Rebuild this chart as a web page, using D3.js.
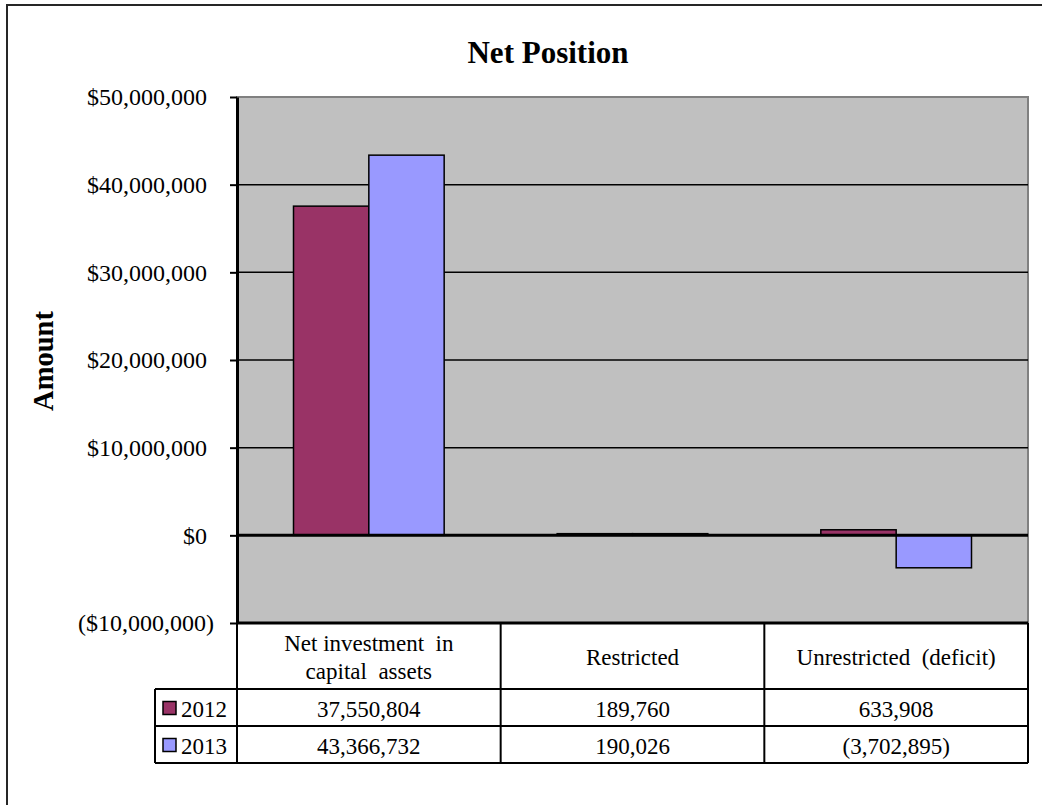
<!DOCTYPE html>
<html>
<head>
<meta charset="utf-8">
<script src="https://cdn.jsdelivr.net/npm/d3@7"></script>
<style>
  body { margin: 0; background: #fff; }
  svg text { font-family: "Liberation Serif", "Times New Roman", serif; fill: #000; white-space: pre; }
</style>
</head>
<body>
<svg id="chart_svg"></svg>
<script>
// Data
var categories = ['Net investment  in\ncapital  assets', 'Restricted', 'Unrestricted  (deficit)'];
var years = ['2012', '2013'];
var values2012 = [37550804, 189760, 633908];
var values2013 = [43366732, 190026, -3702895];
var yTicks = [-10000000, 0, 10000000, 20000000, 30000000, 40000000, 50000000];
var colors = ['#993366', '#9999FF'];

// Dimensions
var W = 1042, H = 805;
var plot = { left: 237, right: 1028, top: 97, bottom: 623 };
var rows = { header: 689, r1: 726, r2: 763, legendLeft: 155 };

var svg = d3.select('#chart_svg').attr('width', W).attr('height', H);

// outer frame (runs off the bottom/right of the picture)
svg.append('rect')
   .attr('x', 7).attr('y', 5)
   .attr('width', W + 20).attr('height', H + 20)
   .attr('fill', '#fff').attr('stroke', '#262626').attr('stroke-width', 2);

var x0 = d3.scaleBand().domain(d3.range(categories.length))
           .range([plot.left, plot.right]).padding(0);
var bw = x0.bandwidth();
var x1 = d3.scaleBand().domain(years).range([bw * 0.75 / 3.5, bw * 2.75 / 3.5]);
var y = d3.scaleLinear().domain([-10000000, 50000000]).range([plot.bottom, plot.top]);

// plot area
svg.append('rect')
   .attr('x', plot.left).attr('y', plot.top)
   .attr('width', plot.right - plot.left).attr('height', plot.bottom - plot.top)
   .attr('fill', '#C0C0C0').attr('stroke', '#808080').attr('stroke-width', 2);

// gridlines
svg.append('g').selectAll('line')
   .data(yTicks.filter(function(d) { return d !== 0 && d !== 50000000; }))
   .enter().append('line')
   .attr('x1', plot.left).attr('x2', plot.right)
   .attr('y1', function(d) { return y(d); }).attr('y2', function(d) { return y(d); })
   .attr('stroke', '#000').attr('stroke-width', function(d) { return d === -10000000 ? 3 : 1.5; });

// bars
var series = [values2012, values2013];
var barData = [];
series.forEach(function(vals, si) {
    vals.forEach(function(v, ci) {
        barData.push({ year: years[si], cat: ci, value: v, color: colors[si] });
    });
});
svg.append('g').selectAll('rect')
   .data(barData)
   .enter().append('rect')
   .attr('x', function(d) { return x0(d.cat) + x1(d.year); })
   .attr('width', x1.bandwidth())
   .attr('y', function(d) { return Math.min(y(d.value), y(0)); })
   .attr('height', function(d) { return Math.abs(y(d.value) - y(0)); })
   .attr('fill', function(d) { return d.color; })
   .attr('stroke', '#000').attr('stroke-width', 1.5);

// zero line
svg.append('line')
   .attr('x1', plot.left).attr('x2', plot.right)
   .attr('y1', y(0)).attr('y2', y(0))
   .attr('stroke', '#000').attr('stroke-width', 3);

// y axis
var fmt = d3.format(',');
var yAxis = d3.axisLeft(y).tickValues(yTicks).tickSize(7).tickSizeOuter(0)
    .tickFormat(function(d) { return d < 0 ? '($' + fmt(-d) + ')' : '$' + fmt(d); });
var ax = svg.append('g').attr('transform', 'translate(' + plot.left + ',0)').call(yAxis);
ax.attr('font-size', null).attr('font-family', null);
ax.select('.domain').attr('stroke', '#000').attr('stroke-width', 3);
ax.selectAll('.tick line').attr('stroke', '#000').attr('stroke-width', 2);
// positive labels leave room for a ")" like the Excel number format
ax.selectAll('.tick text')
  .attr('x', function(d) { return d < 0 ? -23 : -30; })
  .attr('dy', '0.33em')
  .style('font-size', '24px')
  .attr('fill', '#000');

// title and axis title
svg.append('text')
   .attr('x', 548).attr('y', 63)
   .attr('text-anchor', 'middle')
   .style('font-size', '31px').style('font-weight', 'bold')
   .text('Net Position');
svg.append('text')
   .attr('transform', 'translate(53,361) rotate(-90)')
   .attr('text-anchor', 'middle')
   .style('font-size', '28.5px').style('font-weight', 'bold')
   .text('Amount');

// data table
var table = svg.append('g');
var lineAttrs = function(sel) { return sel.attr('stroke', '#000').attr('stroke-width', 2); };
// horizontal lines
[rows.header, rows.r1, rows.r2].forEach(function(yy) {
    lineAttrs(table.append('line').attr('x1', rows.legendLeft).attr('x2', plot.right)
        .attr('y1', yy).attr('y2', yy));
});
// vertical lines
lineAttrs(table.append('line').attr('x1', rows.legendLeft).attr('x2', rows.legendLeft)
    .attr('y1', rows.header).attr('y2', rows.r2));
d3.range(categories.length + 1).forEach(function(i) {
    var xx = i < categories.length ? x0(i) : plot.right;
    lineAttrs(table.append('line').attr('x1', xx).attr('x2', xx)
        .attr('y1', plot.bottom).attr('y2', rows.r2));
});

// category headers
categories.forEach(function(c, i) {
    var lines = c.split('\n');
    var cx = x0(i) + bw / 2;
    var cy = (plot.bottom + rows.header) / 2 + 1;
    var t = table.append('text')
        .attr('text-anchor', 'middle')
        .style('font-size', '23px');
    lines.forEach(function(l, li) {
        t.append('tspan')
         .attr('x', cx)
         .attr('y', cy + (li - (lines.length - 1) / 2) * 28)
         .attr('dy', '0.35em')
         .text(l);
    });
});

// value rows
var rowTops = [rows.header, rows.r1];
var rowBots = [rows.r1, rows.r2];
var numFmt = function(v) { return v < 0 ? '(' + fmt(-v) + ')' : fmt(v); };
series.forEach(function(vals, si) {
    var cy = (rowTops[si] + rowBots[si]) / 2 + 1;
    // legend key
    table.append('rect')
         .attr('x', 163).attr('y', cy - 7)
         .attr('width', 13).attr('height', 13)
         .attr('fill', colors[si]).attr('stroke', '#000').attr('stroke-width', 1.5);
    table.append('text')
         .attr('x', 181).attr('y', cy).attr('dy', '0.35em')
         .style('font-size', '23px')
         .text(years[si]);
    vals.forEach(function(v, ci) {
        table.append('text')
             .attr('x', x0(ci) + bw / 2).attr('y', cy).attr('dy', '0.35em')
             .attr('text-anchor', 'middle')
             .style('font-size', '23px')
             .text(numFmt(v));
    });
});
</script>
</body>
</html>
